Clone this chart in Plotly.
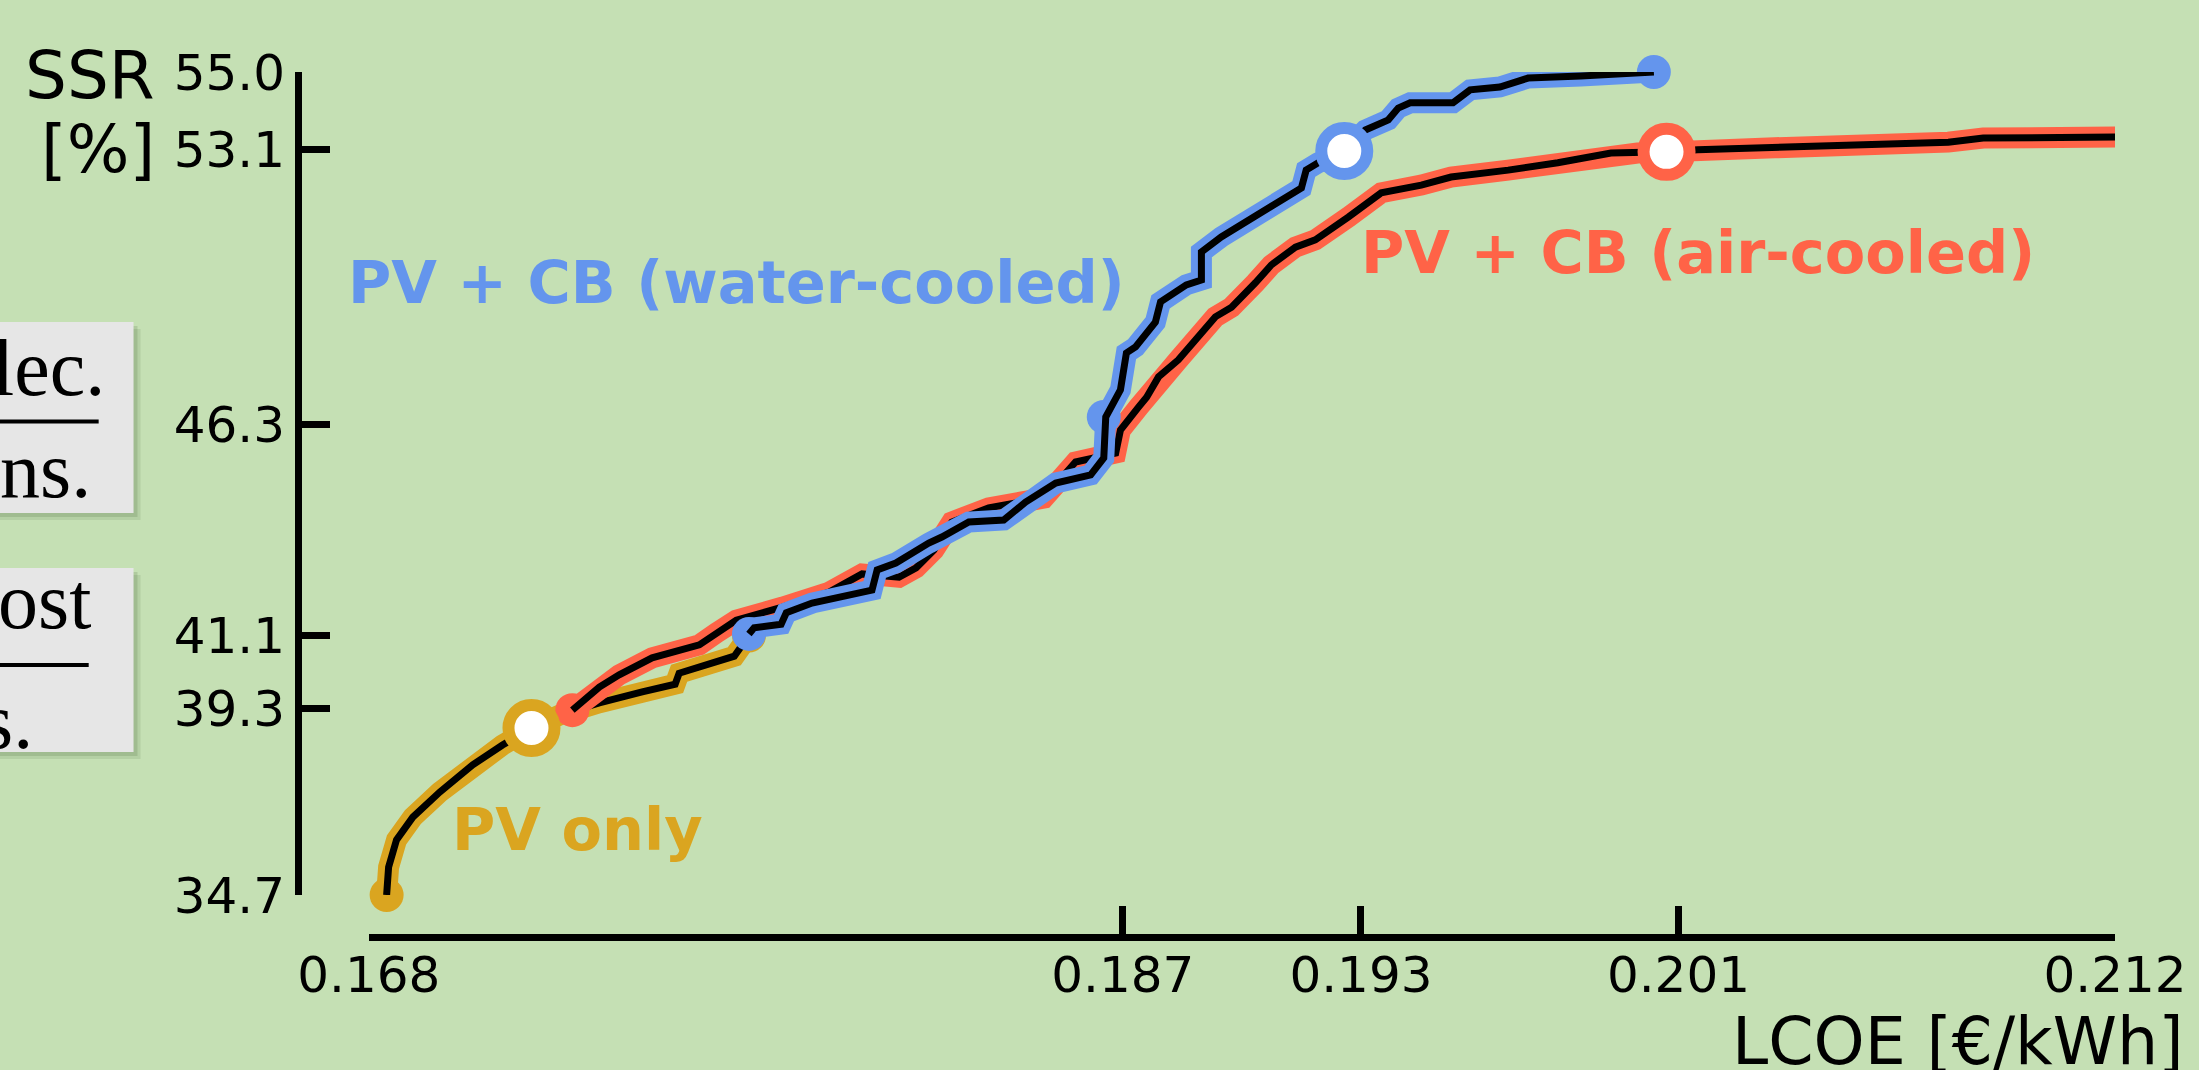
import plotly.graph_objects as go

BG = "#c5e0b4"
GOLD = "#daa520"
RED = "#ff6347"
BLUE = "#6495ed"

# ---- data (LCOE [EUR/kWh], SSR [%]) ----
pv_x = [0.16845, 0.16850, 0.16870, 0.16911, 0.16979, 0.17062, 0.17137, 0.17210,
        0.17281, 0.17381, 0.17489, 0.17572, 0.17582, 0.17721, 0.17758]
pv_y = [34.70, 35.39, 36.06, 36.62, 37.24, 37.91, 38.40, 38.82,
        39.14, 39.44, 39.71, 39.90, 40.17, 40.59, 41.10]

air_x = [0.17313, 0.17381, 0.17431, 0.17514, 0.17633, 0.17675, 0.17726, 0.17842,
         0.17960, 0.18043, 0.18136, 0.18179, 0.18224, 0.18269, 0.18362, 0.18501,
         0.18581, 0.18682, 0.18694, 0.18740, 0.18760, 0.18790, 0.18840, 0.18933,
         0.18974, 0.19034, 0.19074, 0.19135, 0.19185, 0.19268, 0.19351, 0.19452,
         0.19527, 0.19671, 0.19796, 0.19930, 0.19997, 0.20070, 0.20148, 0.20342,
         0.20780, 0.20868, 0.21218]
air_y = [39.26, 39.83, 40.13, 40.55, 40.87, 41.16, 41.48, 41.80,
         42.17, 42.62, 42.54, 42.77, 43.21, 43.90, 44.25, 44.49,
         45.38, 45.60, 46.17, 46.74, 46.98, 47.48, 47.90, 48.96,
         49.20, 49.80, 50.24, 50.68, 50.86, 51.42, 52.02, 52.21,
         52.41, 52.58, 52.76, 53.00, 53.00, 53.03, 53.08, 53.13,
         53.27, 53.37, 53.40]

water_x = [0.17758, 0.17771, 0.17839, 0.17852, 0.17917, 0.18068, 0.18081, 0.18128,
           0.18211, 0.18244, 0.18312, 0.18400, 0.18455, 0.18531, 0.18619, 0.18652,
           0.18657, 0.18694, 0.18709, 0.18732, 0.18782, 0.18795, 0.18860, 0.18898,
           0.18898, 0.18948, 0.19150, 0.19162, 0.19192, 0.19258, 0.19311, 0.19369,
           0.19394, 0.19424, 0.19532, 0.19575, 0.19650, 0.19721, 0.19854, 0.20038]
water_y = [41.14, 41.29, 41.38, 41.66, 41.90, 42.22, 42.72, 42.89,
           43.38, 43.53, 43.90, 43.95, 44.39, 44.86, 45.06, 45.48,
           46.49, 47.16, 48.07, 48.22, 48.83, 49.33, 49.75, 49.87,
           50.56, 50.93, 52.14, 52.58, 52.76, 53.05, 53.57, 53.82,
           54.11, 54.24, 54.24, 54.56, 54.63, 54.85, 54.90, 55.00]

# endpoint / junction dots
pv_dots_x, pv_dots_y = [0.16845, 0.17758], [34.70, 41.10]
air_dots_x, air_dots_y = [0.17313, 0.21218], [39.26, 53.40]
water_dots_x, water_dots_y = [0.17758, 0.18652, 0.20038], [41.14, 46.49, 55.00]

# highlighted operating points
hl_x = [0.17210, 0.20070, 0.19258]
hl_y = [38.82, 53.03, 53.05]
hl_colors = [GOLD, RED, BLUE]

x_ticks = [0.168, 0.187, 0.193, 0.201, 0.212]
x_ticktext = ["0.168", "0.187", "0.193", "0.201", "0.212"]
y_ticks = [34.7, 39.3, 41.1, 46.3, 53.1, 55.0]
y_ticktext = ["34.7", "39.3", "41.1", "46.3", "53.1", "55.0"]

W, H = 2199, 1070
ML, MR, MT, MB = 298, 78, 72, 133
IW, IH = W - ML - MR, H - MT - MB


def px(xp):
    return (xp - ML) / IW


def py(yp):
    return (H - MB - yp) / IH


fig = go.Figure()


def add_series(x, y, color, dx, dy):
    fig.add_trace(go.Scatter(x=x, y=y, mode="lines", line=dict(color=color, width=21),
                             cliponaxis=False, hoverinfo="skip", showlegend=False))
    fig.add_trace(go.Scatter(x=dx, y=dy, mode="markers", marker=dict(color=color, size=34),
                             cliponaxis=False, hoverinfo="skip", showlegend=False))
    fig.add_trace(go.Scatter(x=x, y=y, mode="lines", line=dict(color="black", width=7),
                             cliponaxis=False, hoverinfo="skip", showlegend=False))


add_series(pv_x, pv_y, GOLD, pv_dots_x, pv_dots_y)
add_series(air_x, air_y, RED, air_dots_x, air_dots_y)
add_series(water_x, water_y, BLUE, water_dots_x, water_dots_y)

fig.add_trace(go.Scatter(x=hl_x, y=hl_y, mode="markers",
                         marker=dict(color="white", size=46, line=dict(color=hl_colors, width=12)),
                         cliponaxis=False, hoverinfo="skip", showlegend=False))

axis_common = dict(showline=True, linewidth=7, linecolor="black", ticks="inside",
                   ticklen=28, tickwidth=7, tickcolor="black", showgrid=False,
                   zeroline=False, tickfont=dict(family="DejaVu Sans", size=50, color="black"),
                   anchor="free", position=0)

fig.update_xaxes(range=[0.168, 0.212], domain=[px(369), 1], tickvals=x_ticks,
                 ticktext=x_ticktext, ticklabelstandoff=-9, **axis_common)
fig.update_yaxes(range=[34.7, 55.0], domain=[py(895), 1], tickvals=y_ticks,
                 ticktext=y_ticktext, **axis_common)

annotations = []


def ann(text, x, y, xanchor, size, color="black", family="DejaVu Sans", weight="normal"):
    annotations.append(dict(text=text, x=x, y=y, xref="paper", yref="paper",
                            xanchor=xanchor, yanchor="middle", showarrow=False,
                            font=dict(family=family, size=size, color=color, weight=weight)))


ann("SSR", px(157), py(75), "right", 66)
ann("[%]", px(157), py(150), "right", 66)
ann("LCOE [€/kWh]", px(2192), py(1041), "right", 65)
ann("PV + CB (water-cooled)", px(346), py(282), "left", 59, BLUE, weight="bold")
ann("PV + CB (air-cooled)", px(1363), py(253), "left", 59, RED, weight="bold")
ann("PV only", px(451), py(829), "left", 59, GOLD, weight="bold")

# partially visible explanation boxes at the left edge
ann("lec.", px(106), py(368), "right", 80, family="Liberation Serif")
ann("ns.", px(92), py(470), "right", 80, family="Liberation Serif")
ann("ost", px(92), py(601), "right", 80, family="Liberation Serif")
ann("s.", px(34), py(721), "right", 80, family="Liberation Serif")

shapes = []
for (y0, y1, lx1, ly) in [(322, 513, 98, 421.5), (568, 752, 88, 665)]:
    for off, alpha in [(7, 0.10), (4, 0.14)]:
        shapes.append(dict(type="rect", xref="paper", yref="paper",
                           x0=px(-20), x1=px(133 + off), y0=py(y0 + off), y1=py(y1 + off),
                           fillcolor=f"rgba(40,70,30,{alpha})", line=dict(width=0), layer="below"))
    shapes.append(dict(type="rect", xref="paper", yref="paper",
                       x0=px(-20), x1=px(133), y0=py(y0), y1=py(y1),
                       fillcolor="#e6e6e6", line=dict(width=0), layer="below"))
    shapes.append(dict(type="line", xref="paper", yref="paper",
                       x0=px(-20), x1=px(lx1), y0=py(ly), y1=py(ly),
                       line=dict(color="black", width=4)))

fig.update_layout(width=W, height=H, margin=dict(l=ML, r=MR, t=MT, b=MB),
                  paper_bgcolor=BG, plot_bgcolor=BG, showlegend=False,
                  annotations=annotations, shapes=shapes)

fig.write_html("out.html", config={"displayModeBar": False},
               post_script="document.body.style.margin='0px';"
                           "document.body.style.background='" + BG + "';"
                           "document.body.style.overflow='hidden';")
